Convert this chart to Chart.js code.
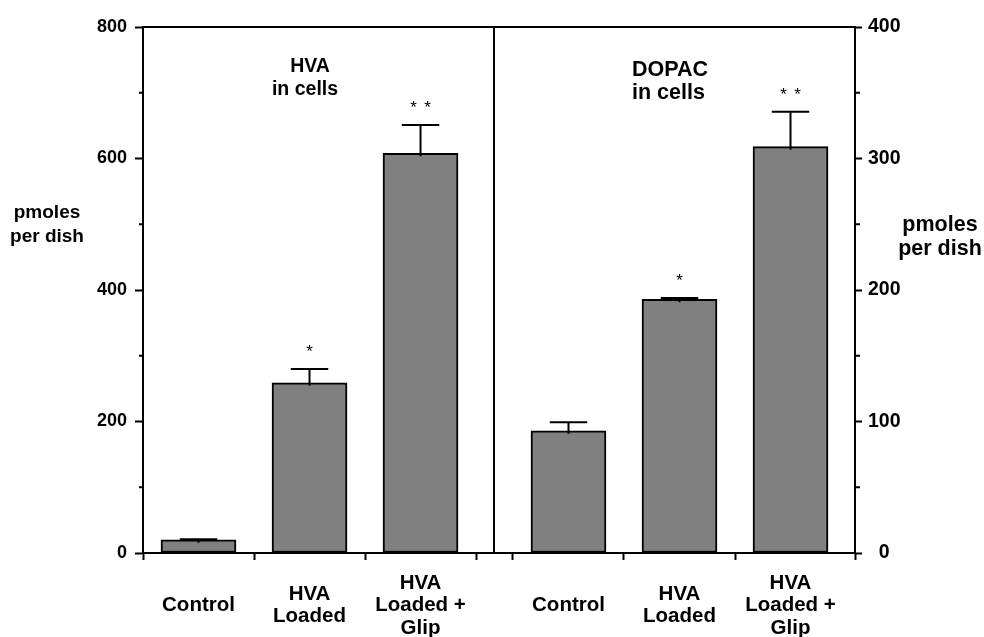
<!DOCTYPE html>
<html>
<head>
<meta charset="utf-8">
<script src="https://cdn.jsdelivr.net/npm/chart.js@4.4.1/dist/chart.umd.min.js"></script>
<style>
  html, body { margin: 0; padding: 0; background: #fff; }
  #wrap { width: 984px; height: 637px; position: relative; }
</style>
</head>
<body>
<div id="wrap"><canvas id="chart"></canvas></div>
<script>
const categories = [['Control'], ['HVA', 'Loaded'], ['HVA', 'Loaded +', 'Glip']];
const hvaValues = [20, 259, 608];
const hvaErrors = [1, 21, 43];
const hvaMarks = ['', '*', '**'];
const dopacValues = [93, 193, 309];
const dopacErrors = [6.5, 1, 26.5];
const dopacMarks = ['', '*', '**'];
const leftTickLabels = [0, 200, 400, 600, 800];
const rightTickLabels = [0, 100, 200, 300, 400];

const FONT = 'Arial, "Liberation Sans", sans-serif';
const black = '#000';
const grey = '#808080';

// x axis runs in "slot" units (one slot per bar); the right panel sits a bit further right
const leftStart = 0;
const rightStart = 3.333;
const dividerX = 3.162;
const xMax = 6.414;

const toPoints = (start, vals) => vals.map((v, i) => ({ x: start + i + 0.5, y: v }));

const xTicks = [];
[leftStart, rightStart].forEach(start => {
  categories.forEach((c, i) => {
    xTicks.push({ value: start + i, label: '' });
    xTicks.push({ value: start + i + 0.5, label: c });
  });
});
xTicks.push({ value: leftStart + 3, label: '' });
xTicks.push({ value: xMax, label: '' });
xTicks.sort((a, b) => a.value - b.value);

const decor = {
  id: 'decor',
  afterDatasetsDraw(chart) {
    const { ctx, chartArea: a, scales } = chart;
    ctx.save();
    ctx.strokeStyle = black;
    ctx.fillStyle = black;
    ctx.lineWidth = 2;

    // top frame and panel divider
    ctx.beginPath();
    ctx.moveTo(a.left - 1, a.top);
    ctx.lineTo(a.right + 1, a.top);
    const dx = Math.round(scales.x.getPixelForValue(dividerX));
    ctx.moveTo(dx, a.top);
    ctx.lineTo(dx, a.bottom);
    ctx.stroke();

    // short minor ticks
    ctx.beginPath();
    scales.y.ticks.forEach(t => {
      if (leftTickLabels.includes(t.value)) return;
      const py = scales.y.getPixelForValue(t.value);
      ctx.moveTo(a.left - 4, py);
      ctx.lineTo(a.left, py);
    });
    scales.y2.ticks.forEach(t => {
      if (rightTickLabels.includes(t.value)) return;
      const py = scales.y2.getPixelForValue(t.value);
      ctx.moveTo(a.right, py);
      ctx.lineTo(a.right + 5, py);
    });
    ctx.stroke();

    // error bars and significance stars
    chart.data.datasets.forEach((ds, di) => {
      const meta = chart.getDatasetMeta(di);
      const ys = scales[ds.yAxisID];
      meta.data.forEach((bar, i) => {
        const top = ys.getPixelForValue(ds.data[i].y + ds.errors[i]);
        const half = bar.width / 4;
        ctx.beginPath();
        ctx.moveTo(bar.x, bar.y + 3);
        ctx.lineTo(bar.x, top);
        ctx.moveTo(bar.x - half, top);
        ctx.lineTo(bar.x + half, top);
        ctx.stroke();
        const m = ds.marks[i];
        ctx.font = '17px ' + FONT;
        ctx.textAlign = 'center';
        ctx.textBaseline = 'middle';
        for (let k = 0; k < m.length; k++) {
          ctx.fillText(m[k], bar.x + (k - (m.length - 1) / 2) * 14, top - 17);
        }
      });
    });

    // panel titles
    ctx.textBaseline = 'middle';
    ctx.textAlign = 'center';
    ctx.font = 'bold 19.5px ' + FONT;
    ctx.fillText('HVA', 310, 67);
    ctx.fillText('in cells', 305, 90);
    ctx.textAlign = 'left';
    ctx.font = 'bold 21.5px ' + FONT;
    ctx.fillText('DOPAC', 632, 70);
    ctx.fillText('in cells', 632, 93);

    // axis titles
    ctx.textAlign = 'center';
    ctx.font = 'bold 19px ' + FONT;
    ctx.fillText('pmoles', 47, 213);
    ctx.fillText('per dish', 47, 237);
    ctx.font = 'bold 21.5px ' + FONT;
    ctx.fillText('pmoles', 940, 225);
    ctx.fillText('per dish', 940, 249);
    ctx.restore();
  }
};

new Chart(document.getElementById('chart'), {
  type: 'bar',
  data: {
    datasets: [
      {
        label: 'HVA in cells', data: toPoints(leftStart, hvaValues), yAxisID: 'y',
        errors: hvaErrors, marks: hvaMarks,
        backgroundColor: grey, borderColor: black
      },
      {
        label: 'DOPAC in cells', data: toPoints(rightStart, dopacValues), yAxisID: 'y2',
        errors: dopacErrors, marks: dopacMarks,
        backgroundColor: grey, borderColor: black
      }
    ]
  },
  options: {
    responsive: true,
    maintainAspectRatio: false,
    animation: false,
    layout: { padding: { top: 27, left: 0, right: 0, bottom: 0 } },
    datasets: {
      bar: {
        borderWidth: 2,
        borderSkipped: false,
        barThickness: 75,
        grouped: false
      }
    },
    plugins: {
      legend: { display: false },
      tooltip: { enabled: false }
    },
    scales: {
      x: {
        type: 'linear',
        offset: false,
        min: 0,
        max: xMax,
        afterBuildTicks: s => { s.ticks = xTicks.map(t => ({ value: t.value })); },
        afterFit: s => { s.height = 84; },
        ticks: {
          autoSkip: false,
          maxRotation: 0,
          minRotation: 0,
          padding: 23,
          crossAlign: 'center',
          color: black,
          font: { family: FONT, size: 20.5, weight: 'bold', lineHeight: 1.1 },
          callback: (v, i) => xTicks[i].label
        },
        grid: {
          offset: false,
          drawOnChartArea: false,
          tickLength: 7,
          tickWidth: 2,
          tickColor: c => (xTicks[c.index] && xTicks[c.index].label === '') ? black : 'rgba(0,0,0,0)'
        },
        border: { color: black, width: 2 }
      },
      y: {
        position: 'left',
        min: 0,
        max: 800,
        afterFit: s => { s.width = 143; },
        ticks: {
          stepSize: 100,
          padding: 8,
          color: black,
          font: { family: FONT, size: 18, weight: 'bold' },
          callback: v => leftTickLabels.includes(v) ? v : ''
        },
        grid: {
          drawOnChartArea: false,
          tickLength: 8,
          tickWidth: 2,
          tickColor: c => leftTickLabels.includes(c.tick.value) ? black : 'rgba(0,0,0,0)'
        },
        border: { color: black, width: 2 }
      },
      y2: {
        position: 'right',
        min: 0,
        max: 400,
        afterFit: s => { s.width = 129; },
        ticks: {
          stepSize: 50,
          padding: 6,
          crossAlign: 'center',
          color: black,
          font: { family: FONT, size: 19.5, weight: 'bold' },
          callback: v => rightTickLabels.includes(v) ? v : ''
        },
        grid: {
          drawOnChartArea: false,
          tickLength: 7,
          tickWidth: 2,
          tickColor: c => rightTickLabels.includes(c.tick.value) ? black : 'rgba(0,0,0,0)'
        },
        border: { color: black, width: 2 }
      }
    }
  },
  plugins: [decor]
});
</script>
</body>
</html>
